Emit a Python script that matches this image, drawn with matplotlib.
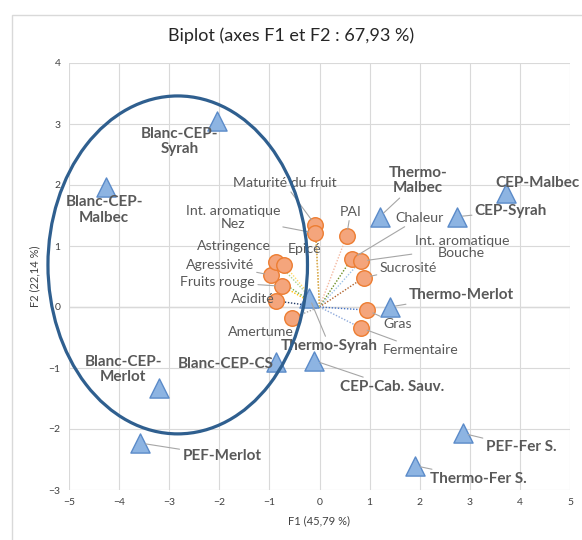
import matplotlib
matplotlib.use("Agg")
import matplotlib.pyplot as plt
from matplotlib.patches import Ellipse, Rectangle

plt.rcParams['font.family'] = ['Lato', 'DejaVu Sans']

# ---------------- data ----------------
obs_names = ["Blanc-CEP-\nSyrah", "Blanc-CEP-\nMalbec", "Blanc-CEP-\nMerlot", "PEF-Merlot",
             "Blanc-CEP-CS", "CEP-Cab. Sauv.", "Thermo-Syrah", "Thermo-\nMalbec",
             "CEP-Syrah", "CEP-Malbec", "Thermo-Merlot", "PEF-Fer S.", "Thermo-Fer S."]
obs_x = [-2.05, -4.26, -3.20, -3.58, -0.86, -0.10, -0.20, 1.20, 2.74, 3.72, 1.40, 2.86, 1.90]
obs_y = [3.05, 1.97, -1.33, -2.23, -0.90, -0.88, 0.15, 1.48, 1.48, 1.87, 0.00, -2.07, -2.60]

var_names = ["Maturité du fruit", "Int. aromatique\nNez", "PAI", "Chaleur",
             "Int. aromatique\nBouche", "Sucrosité", "Gras", "Fermentaire", "Amertume",
             "Acidité", "Fruits rouge", "Agressivité", "Astringence", "Epicé"]
var_x = [-0.08, -0.08, 0.54, 0.64, 0.82, 0.88, 0.94, 0.82, -0.54, -0.86, -0.74, -0.96, -0.86, -0.70]
var_y = [1.34, 1.21, 1.16, 0.79, 0.75, 0.48, -0.05, -0.34, -0.18, 0.10, 0.34, 0.52, 0.74, 0.69]

x_ticks = [-5, -4, -3, -2, -1, 0, 1, 2, 3, 4, 5]
y_ticks = [-3, -2, -1, 0, 1, 2, 3, 4]

title = "Biplot (axes F1 et F2 : 67,93 %)"
xlabel = "F1 (45,79 %)"
ylabel = "F2 (22,14 %)"

# ---------------- layout (label positions, leaders) ----------------
obs_label_pos = [(-2.79, 2.72), (-4.30, 1.59), (-3.92, -1.02), (-1.95, -2.44),
                 (-1.87, -0.93), (1.45, -1.31), (0.20, -0.64), (1.97, 2.07),
                 (3.82, 1.57), (4.36, 2.03), (2.83, 0.20), (4.02, -2.30), (3.17, -2.82)]
obs_leader = [False, False, False, True, False, True, True, True, True, False, True, True, True]

var_label_pos = [(-0.70, 2.03), (-1.73, 1.47), (0.62, 1.56), (1.99, 1.46),
                 (2.84, 0.98), (1.77, 0.64), (1.55, -0.28), (2.01, -0.70), (-1.16, -0.41),
                 (-1.33, 0.13), (-2.03, 0.41), (-1.99, 0.69), (-1.70, 1.00), (-0.30, 0.95)]
var_leader = [True, True, True, True, True, True, True, True, False,
              False, True, True, False, False]
vec_colors = ["#C9A227", "#E0B060", "#F4B8A0", "#6B8E23", "#9DC3E6", "#B0622C",
              "#4472C4", "#8FAADC", "#A5A5A5", "#203864", "#FFC000", "#70AD47", "#A9D18E", "#FFD966"]

# ---------------- figure ----------------
fig = plt.figure(figsize=(5.82, 5.40), dpi=100)
ax = fig.add_axes([69/582, 50/540, 501/582, 427/540])

fig.patches.append(Rectangle((12/582, -0.1), 1.2, 1 + 0.1 - 15/540,
                             transform=fig.transFigure, fill=False,
                             edgecolor="#D9D9D9", lw=1.0))

ax.set_xlim(-5, 5)
ax.set_ylim(-3, 4)
ax.set_xticks(x_ticks)
ax.set_yticks(y_ticks)
ax.grid(True, color="#D9D9D9", lw=0.8)
ax.set_axisbelow(True)
for s in ax.spines.values():
    s.set_visible(False)
ax.axhline(0, color="#BFBFBF", lw=0.9, zorder=0.5)
ax.tick_params(length=0, labelsize=7.5, labelcolor="#404040", pad=6)
ax.set_xlabel(xlabel, fontsize=8, color="#404040", labelpad=6)
ax.set_ylabel(ylabel, fontsize=8, color="#404040", labelpad=6)
fig.text(0.5, 1 - 36/540, title, ha="center", va="center", fontsize=13, color="#262626")

# vectors
for vx, vy, c in zip(var_x, var_y, vec_colors):
    ax.plot([0, vx], [0, vy], ls=(0, (1, 1.2)), lw=1.0, color=c, zorder=2)

# markers
ax.scatter(var_x, var_y, s=125, marker="o", facecolor="#F4A57C", edgecolor="#ED7D31",
           lw=1.0, zorder=4)
ax.scatter(obs_x, obs_y, s=190, marker="^", facecolor="#8DB4E2", edgecolor="#5B8BC9",
           lw=1.0, zorder=4)

# labels
for name, x, y, pos, lead in zip(var_names, var_x, var_y, var_label_pos, var_leader):
    ap = dict(arrowstyle="-", color="#A6A6A6", lw=0.8, shrinkA=0, shrinkB=5) if lead else None
    ax.annotate(name, xy=(x, y), xytext=pos, ha="center", va="center", fontsize=10.2,
                color="#595959", linespacing=1.05, arrowprops=ap, zorder=5)

for name, x, y, pos, lead in zip(obs_names, obs_x, obs_y, obs_label_pos, obs_leader):
    ap = dict(arrowstyle="-", color="#A6A6A6", lw=0.8, shrinkA=0, shrinkB=4) if lead else None
    ax.annotate(name, xy=(x, y), xytext=pos, ha="center", va="center", fontsize=11,
                fontweight="bold", color="#595959", linespacing=1.1, arrowprops=ap, zorder=6)

ax.add_patch(Ellipse((-2.83, 0.69), width=5.18, height=5.54, fill=False,
                     edgecolor="#2F5F8F", lw=2.3, clip_on=False, zorder=7))

fig.savefig("out.png", dpi=100)
